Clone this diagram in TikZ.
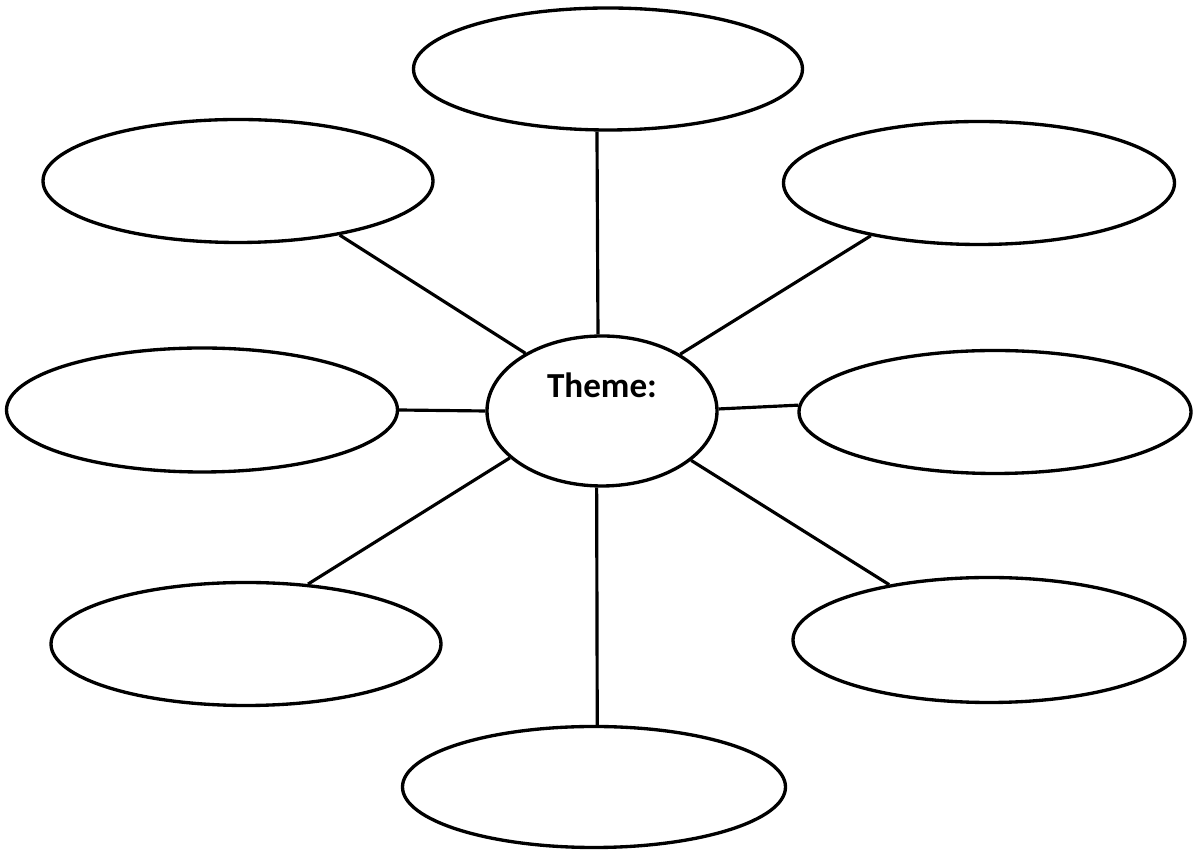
\documentclass[tikz,border=0pt]{standalone}
\usepackage{fontspec}
\setmainfont{Carlito}
\usepackage{tikz}
\usetikzlibrary{shapes.geometric}

\tikzset{
	bubble/.style={draw, ellipse, line width=1.9pt, inner sep=0pt, minimum width=7.8cm, minimum height=2.46cm},
	spoke/.style={line width=1.8pt}
}

\begin{document}
\begin{tikzpicture}
			\useasboundingbox (0,0) rectangle (23.86,17);
			\node[bubble, minimum width=4.6cm, minimum height=3cm, text height=0.42cm, text depth=0.94cm, font=\fontsize{20}{24}\selectfont\bfseries] (theme) at (12.04,8.78) {Theme:};

			\node[bubble, minimum width=7.78cm, minimum height=2.44cm] (top) at (12.16,15.62) {};
			\node[bubble] (topleft) at (4.76,13.38) {};
			\node[bubble, minimum width=7.82cm] (topright) at (19.58,13.34) {};
			\node[bubble, minimum width=7.82cm, minimum height=2.48cm] (left) at (4.04,8.80) {};
			\node[bubble, minimum width=7.84cm] (right) at (19.90,8.76) {};
			\node[bubble] (bottomleft) at (4.92,4.12) {};
			\node[bubble, minimum width=7.84cm, minimum height=2.5cm] (bottomright) at (19.78,4.20) {};
			\node[bubble, minimum width=7.66cm, minimum height=2.42cm] (bottom) at (11.88,1.26) {};

			\draw[spoke] (theme.93) -- (top.260.7);
			\draw[spoke] (theme.143.2) -- (topleft.332.5);
			\draw[spoke] (theme.36.6) -- (topright.206.4);
			\draw[spoke] (theme.180) -- (left.0);
			\draw[spoke] (theme.1.5) -- (right.178.8);
			\draw[spoke] (theme.207.8) -- (bottomleft.44);
			\draw[spoke] (theme.331.9) -- (bottomright.151.4);
			\draw[spoke] (theme.266.2) -- (bottom.87.2);
		\end{tikzpicture}
\end{document}
